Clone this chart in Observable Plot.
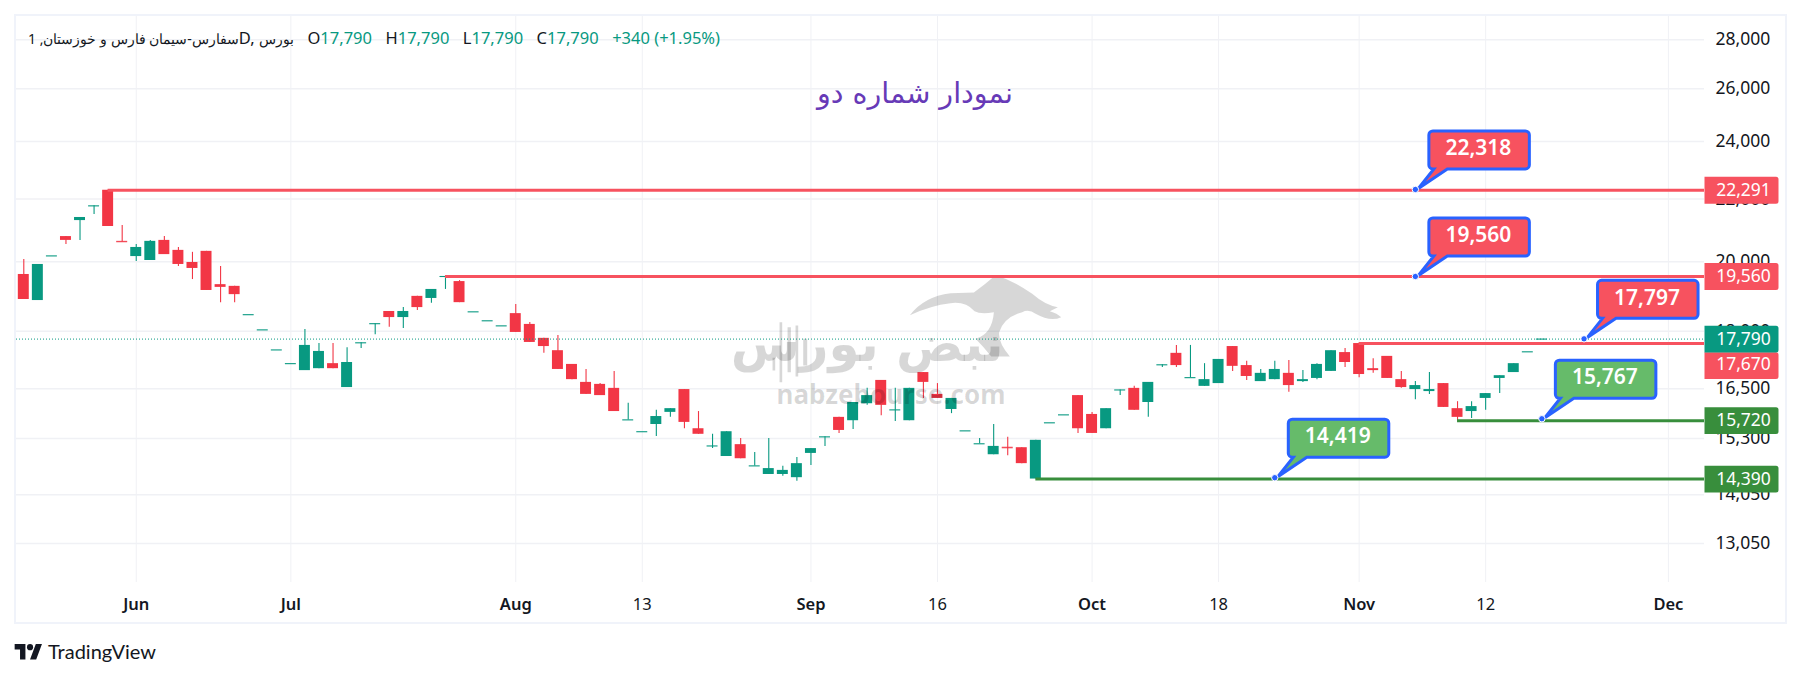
<!DOCTYPE html>
<html>
<head>
<meta charset="utf-8">
<script src="https://cdn.jsdelivr.net/npm/d3@7"></script>
<script src="https://cdn.jsdelivr.net/npm/@observablehq/plot@0.6"></script>
<style>
html,body{margin:0;padding:0;background:#fff;width:1800px;height:677px;overflow:hidden}
#wrap{position:relative;width:1800px;height:677px;font-family:"Noto Sans",sans-serif;color:#131722}
#wrap svg.chart{position:absolute;left:0;top:0}
#frame{position:absolute;left:14px;top:14px;width:1769px;height:606px;border:2px solid #F0F3FA;pointer-events:none}
#legend{position:absolute;left:28px;top:26px;font-size:16.5px;line-height:24px;white-space:nowrap;display:flex}
#legend span.s{margin-right:13.5px}
#legend span.fa{font-size:14px}
#legend b{font-weight:400;color:#089981}
#brand{position:absolute;left:14px;top:640px;display:flex;align-items:center;font-family:Lato,sans-serif;font-size:20px;line-height:22px;color:#131722}
#brand svg{width:29px;height:20px;margin-right:5px}
</style>
</head>
<body>
<div id="wrap">
<div id="frame"></div>
<div id="legend"></div>
<div id="brand"><svg viewBox="0 0 36 26"><path fill="#131722" d="M14 24H7V11H0V4h14v20zM28 24h-8l7.5-20h8L28 24z"/><circle fill="#131722" cx="20" cy="8" r="4"/></svg><span>TradingView</span></div>
</div>
<script>
const opens=[19620,18860,20180,20780,21290,21770,22291,20630,20160,20040,20660,20350,19980,20320,19320,19270,18460,18040,17500,17140,16960,17010,17140,16530,17690,18210,18550,18380,18980,18920,19560,19410,18540,18290,18150,18490,18190,17810,17480,17120,16660,16610,16510,15740,15460,15630,15920,16480,15530,15130,14890,15160,14680,14490,14490,14420,14960,15340,15800,15720,16130,16710,15980,15720,16910,16360,15990,15480,15180,14930,15100,15090,14390,15670,15860,16330,15870,15530,16470,16510,16160,17110,17410,16780,16560,16630,17590,17090,16680,16730,16890,16680,16760,16940,17430,17670,17010,17330,16730,16480,16430,16630,16010,15940,16260,16760,16910,17450,17790];
const highs=[20070,19920,20180,20780,21390,21770,22291,21130,20530,20660,20780,20440,20290,20320,19860,19270,18460,18040,17500,17140,18050,17670,17670,17560,17690,18210,18550,18660,18980,19180,19560,19440,18540,18290,18150,18750,18240,17810,17890,17120,16990,16630,16940,16140,15460,15970,16010,16480,15940,15400,15460,15300,14980,15300,14670,14870,15070,15340,15800,16160,16510,16710,16510,16510,16910,16630,16260,15480,15300,15630,15330,15090,15260,15670,15860,16330,15920,16010,16470,16560,16660,17110,17620,17620,17140,17250,17590,17200,16990,17200,17220,16960,17140,17480,17540,17670,17270,17330,16940,16680,16910,16630,16180,16180,16380,16830,17140,17450,17790];
const lows=[18890,18860,20180,20530,20660,21490,21100,20620,20010,20040,20220,19860,19470,19150,18800,18800,18460,18040,17500,17140,16960,17010,17010,16530,17540,17910,18110,18080,18580,18780,19180,18800,18540,18290,18150,17970,17700,17410,16990,16730,16360,16330,15940,15740,15460,15350,15800,15530,15400,15070,14890,14840,14680,14490,14450,14340,14690,15120,15420,15510,16090,15840,15700,15720,16260,16260,15890,15480,15180,14930,14910,14730,14390,15670,15860,15420,15420,15530,16330,15970,15800,17040,17040,16780,16560,16630,16940,16710,16680,16730,16410,16660,16730,16940,17040,16780,16890,16760,16510,16230,16360,16040,15720,15770,15970,16380,16910,17450,17790];
const closes=[18890,19920,20180,20660,21390,21770,21100,20620,20440,20630,20220,19920,19800,19150,19240,19030,18460,18040,17500,17140,17620,17460,17010,17170,17690,18210,18380,18550,18660,19180,19560,18800,18540,18290,18150,17970,17700,17590,16990,16730,16360,16330,15940,15740,15460,15820,16010,15680,15400,15130,15460,14840,14680,14620,14580,14730,15070,15340,15490,16160,16330,16090,15980,16510,16660,16260,16260,15480,15180,15120,15090,14730,15260,15670,15860,15530,15420,16010,16470,15970,16660,17110,17090,16780,16730,17250,17070,16810,16890,16990,16580,16730,17120,17480,17170,16860,16960,16760,16530,16580,16480,16040,15800,16060,16380,16830,17140,17450,17790];

const priceTicks=[28000,26000,24000,22000,20000,18000,16500,15300,14050,13050];
const timeTickBars=[8,19,35,44,56,65,76,85,95,104,117];
const timeTickLabels=["Jun","Jul","Aug","13","Sep","16","Oct","18","Nov","12","Dec"];

const levelPrices=[22291,19560,17670,15720,14390];
const levelStartBars=[6,30,95,102,72];
const levelColors=["#F7525F","#F7525F","#F7525F","#388E3C","#388E3C"];
const lastPrice=17790;

const noteBars=[99,99,111,108,89];
const notePrices=[22318,19560,17797,15767,14419];
const noteFills=["#F7525F","#F7525F","#F7525F","#66BB6A","#66BB6A"];

const chartTitle="نمودار شماره دو";
const symbolText="1 ,سفارس-سیمان فارس و خوزستان";
const exchangeLatin="D, ";
const exchangeText="بورس";
const ohlc=[["O","17,790"],["H","17,790"],["L","17,790"],["C","17,790"]];
const changeText="+340 (+1.95%)";
const watermarkFa="نبض بورس";
const watermarkEn="nabzebourse.com";

const GREEN="#089981", RED="#F23645", GRID="#F0F1F5", INK="#131722";
const FONT='"Noto Sans",sans-serif';
const bars=d3.range(opens.length).map(i=>({i,o:opens[i],h:highs[i],l:lows[i],c:closes[i],col:closes[i]>=opens[i]?GREEN:RED}));
const X_MIN=-0.519, X_MAX=119.57, HALF=0.39;
const levels=levelPrices.map((p,k)=>({p,s:levelStartBars[k],col:levelColors[k]}));
const notes=notePrices.map((p,k)=>({p,b:noteBars[k],fill:noteFills[k]}));
const fmt=d3.format(",");
const isMonth=d=>isNaN(+timeTickLabels[timeTickBars.indexOf(d)]);
const timeFmt=d=>timeTickLabels[timeTickBars.indexOf(d)];

// balloon relative to its anchor point
const balloon={draw(c){
  const L=13.5,R=114,T=-58.5,B=-20.5,r=4;
  c.moveTo(L+r,T);c.lineTo(R-r,T);c.arcTo(R,T,R,T+r,r);c.lineTo(R,B-r);c.arcTo(R,B,R-r,B,r);
  c.lineTo(32,B);c.lineTo(3,-1);c.lineTo(18.5,B);c.lineTo(L+r,B);c.arcTo(L,B,L,B-r,r);c.lineTo(L,T+r);c.arcTo(L,T,L+r,T,r);c.closePath();
}};
// price badge starting at the pane's right edge
const badge={draw(c){
  const W=74,H=13.4,r=2.5;
  c.moveTo(0,-H);c.lineTo(W-r,-H);c.arcTo(W,-H,W,-H+r,r);c.lineTo(W,H-r);c.arcTo(W,H,W-r,H,r);c.lineTo(0,H);c.closePath();
}};
// watermark bull silhouette and candle cluster, relative to its reference point
const bull={draw(c){
  const P=(x,y)=>[(x-800)/3,(y-140)/3];
  const m=(x,y)=>c.moveTo(...P(x,y)), l=(x,y)=>c.lineTo(...P(x,y));
  const q=(a,b,x,y)=>c.quadraticCurveTo(...P(a,b),...P(x,y));
  m(568,134);q(610,78,690,68);l(760,66);q(795,40,825,14);q(880,30,935,70);q(975,105,1012,110);l(988,122);q(1010,128,1022,140);
  q(990,155,945,130);q(925,115,905,125);q(850,140,836,185);q(832,215,868,258);l(812,258);q(790,230,765,205);q(815,190,820,125);
  q(780,132,762,122);q(735,92,690,98);q(630,105,568,134);c.closePath();
  for(const [x,t,b,w] of [[160,262,300,4],[181,155,335,4],[206,170,305,5],[229,165,318,4],[254,205,285,6]]){
    c.rect(...P(x-w,t),(2*w)/3,(b-t)/3);
  }
}};

const plot=Plot.plot({
  width:1800,height:677,
  marginTop:16,marginBottom:95,marginLeft:16,marginRight:96,
  style:{background:"transparent",fontFamily:FONT},
  x:{type:"linear",domain:[X_MIN,X_MAX]},
  y:{type:"log",domain:[12302,29006]},
  color:{type:"identity"},
  marks:[
    Plot.gridX(timeTickBars,{x:d=>d,stroke:GRID,strokeOpacity:1,strokeWidth:1}),
    Plot.gridY(priceTicks,{y:d=>d,stroke:GRID,strokeOpacity:1,strokeWidth:1.5}),
    Plot.axisX(timeTickBars.filter(isMonth),{x:d=>d,anchor:"bottom",tickSize:0,tickPadding:16,label:null,
      tickFormat:timeFmt,fontSize:16.5,fontWeight:600,fill:INK}),
    Plot.axisX(timeTickBars.filter(d=>!isMonth(d)),{x:d=>d,anchor:"bottom",tickSize:0,tickPadding:16,label:null,
      tickFormat:timeFmt,fontSize:16.5,fill:INK}),
    Plot.axisY(priceTicks,{y:d=>d,anchor:"right",tickSize:0,tickPadding:11,label:null,textAnchor:"start",
      tickFormat:d=>fmt(d),fontSize:17.5,fill:INK}),
    Plot.ruleX(bars,{x:"i",y1:"l",y2:"h",stroke:"col",strokeWidth:1.1}),
    Plot.rect(bars.filter(d=>d.o!==d.c),{x1:d=>d.i-HALF,x2:d=>d.i+HALF,y1:"o",y2:"c",fill:"col"}),
    Plot.ruleY(bars.filter(d=>Math.abs(d.o-d.c)<=20),{x1:d=>d.i-HALF,x2:d=>d.i+HALF,y:"c",stroke:"col",strokeWidth:1.1}),
    // watermark
    Plot.text([watermarkFa],{x:[60],y:[17620],text:d=>d,fontSize:50,fontWeight:"bold",fill:"#000",fillOpacity:0.155,fontFamily:'"DejaVu Sans",sans-serif'}),
    Plot.text([watermarkEn],{x:[61.7],y:[16330],text:d=>d,fontSize:26,fontWeight:"bold",fill:"#000",fillOpacity:0.155,fontFamily:FONT,style:"letter-spacing:3px"}),
    Plot.dot([1],{x:[68.54],y:[18390],symbol:bull,r:1,fill:"#000",fillOpacity:0.155,stroke:"none"}),
    // last price and levels
    Plot.ruleY([lastPrice],{x1:X_MIN,x2:X_MAX,stroke:GREEN,strokeWidth:1,strokeDasharray:"1 2"}),
    Plot.ruleY(levels,{y:"p",x1:"s",x2:X_MAX,stroke:"col",strokeWidth:3}),
    // balloons
    Plot.dot(notes,{x:"b",y:"p",symbol:balloon,r:1,fill:"fill",stroke:"#2962FF",strokeWidth:3}),
    Plot.dot(notes,{x:"b",y:"p",r:3.2,fill:"#2962FF",stroke:"#fff",strokeWidth:1}),
    Plot.text(notes,{x:"b",y:"p",text:d=>fmt(d.p),dx:63,dy:-41,fontSize:21,fontWeight:600,fill:"#fff",fontFamily:FONT}),
    // badges
    Plot.dot(levels.filter(d=>d.p!==17670),{y:"p",frameAnchor:"right",symbol:badge,r:1,fill:"col",stroke:"none"}),
    Plot.dot(levels.filter(d=>d.p===17670),{y:"p",frameAnchor:"right",dy:22,symbol:badge,r:1,fill:"col",stroke:"none"}),
    Plot.dot([lastPrice],{y:d=>d,frameAnchor:"right",symbol:badge,r:1,fill:GREEN,stroke:"none"}),
    Plot.text(levels.filter(d=>d.p!==17670),{y:"p",frameAnchor:"right",text:d=>fmt(d.p),textAnchor:"middle",dx:39,fontSize:17.5,fill:"#fff"}),
    Plot.text(levels.filter(d=>d.p===17670),{y:"p",frameAnchor:"right",text:d=>fmt(d.p),textAnchor:"middle",dx:39,dy:21,fontSize:17.5,fill:"#fff"}),
    Plot.text([lastPrice],{y:d=>d,frameAnchor:"right",text:d=>fmt(d),textAnchor:"middle",dx:39,fontSize:17.5,fill:"#fff"}),
    // chart title
    Plot.text([chartTitle],{x:[63.4],y:[25780],text:d=>d,fontSize:28.5,fill:"#673AB7",fontFamily:'"DejaVu Sans",sans-serif'})
  ]
});
plot.classList.add("chart");
document.getElementById("wrap").prepend(plot);

const lg=document.getElementById("legend");
const add=(h,cls)=>{const s=document.createElement("span");if(cls)s.className=cls;s.innerHTML=h;lg.appendChild(s);return s;};
add('<span class="fa">'+symbolText+'</span>'+exchangeLatin+'<span class="fa">'+exchangeText+'</span>',"s");
ohlc.forEach(([k,v])=>add(k+"<b>"+v+"</b>","s"));
add("<b>"+changeText+"</b>");
</script>
</body>
</html>
